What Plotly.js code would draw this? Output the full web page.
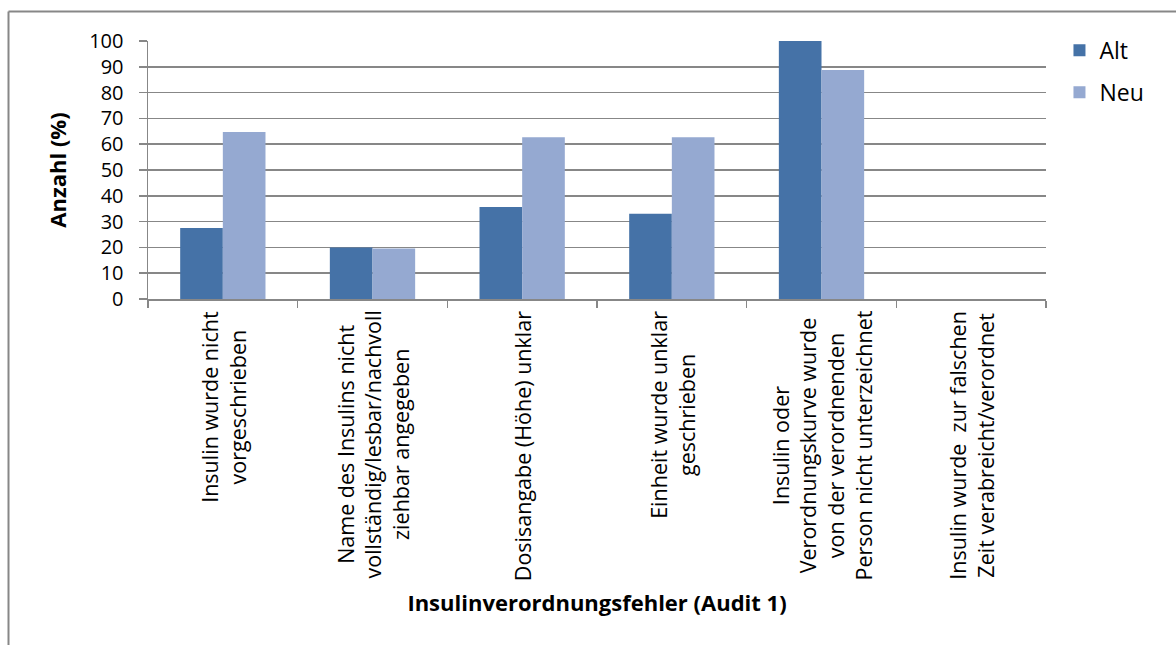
<!DOCTYPE html>
<html>
<head>
<meta charset="utf-8">
<script src="https://cdn.plot.ly/plotly-3.0.1.min.js"></script>
<style>
  html, body { margin: 0; padding: 0; background: #ffffff; }
  #chart { width: 1176px; height: 645px; }
</style>
</head>
<body>
<div id="chart"></div>
<script>
// ---- data ----
const categories = [
  "Insulin wurde nicht<br>vorgeschrieben",
  "Name des Insulins nicht<br>vollständig/lesbar/nachvoll<br>ziehbar angegeben",
  "Dosisangabe (Höhe) unklar",
  "Einheit wurde unklar<br>geschrieben",
  "Insulin oder<br>Verordnungskurve wurde<br>von der verordnenden<br>Person nicht unterzeichnet",
  "Insulin wurde &nbsp;zur falschen<br>Zeit verabreicht/verordnet"
];
const catKeys = ["c1", "c2", "c3", "c4", "c5", "c6"];
const altValues = [27.5, 20.0, 35.7, 33.0, 100, 0];
const neuValues = [64.7, 19.6, 62.7, 62.7, 88.8, 0];
const seriesNames = ["Alt", "Neu"];
const yTickValues = [0, 10, 20, 30, 40, 50, 60, 70, 80, 90, 100];
const xTitle = "Insulinverordnungsfehler (Audit 1)";
const yTitle = "Anzahl (%)";

const FONT = "'Open Sans', sans-serif";

const traces = [
  {
    type: "bar", name: seriesNames[0], x: catKeys, y: altValues,
    marker: { color: "#4572A7", line: { width: 0 } },
    legendgroup: "a", hoverinfo: "y"
  },
  {
    type: "bar", name: seriesNames[1], x: catKeys, y: neuValues,
    marker: { color: "#95A9D1", line: { width: 0 } },
    legendgroup: "b", hoverinfo: "y"
  }
];

const annotations = catKeys.map((k, i) => ({
  x: k, xref: "x", y: 0, yref: "paper",
  yanchor: "top", xanchor: "center",
  yshift: -10,
  text: categories[i], textangle: -90, align: "center",
  showarrow: false,
  font: { family: FONT, size: 21.5, color: "#000" }
}));

const layout = {
  width: 1176, height: 645,
  paper_bgcolor: "#ffffff", plot_bgcolor: "#ffffff",
  margin: { l: 148, r: 130, t: 41, b: 346 },
  barmode: "group", bargap: 0.43, bargroupgap: 0,
  showlegend: true,
  legend: {
    x: 1.015, y: 1.047, xanchor: "left", yanchor: "top",
    font: { family: FONT, size: 23, color: "#000" },
    tracegroupgap: 9, traceorder: "grouped",
    bgcolor: "rgba(0,0,0,0)"
  },
  xaxis: {
    type: "category",
    showticklabels: false,
    ticks: "outside", ticklen: 7, tickcolor: "#878787", tickwidth: 1.5,
    tickson: "boundaries",
    showline: true, linecolor: "#878787", linewidth: 1.5,
    showgrid: false, zeroline: false,
    title: { text: "<b>" + xTitle + "</b>", font: { family: FONT, size: 22, color: "#000" }, standoff: 296 }
  },
  yaxis: {
    range: [0, 100],
    tickvals: yTickValues,
    ticks: "outside", ticklen: 8, tickcolor: "#878787", tickwidth: 1.5,
    ticklabelstandoff: 11,
    tickfont: { family: FONT, size: 20, color: "#000" },
    showline: true, linecolor: "#878787", linewidth: 1.5,
    showgrid: true, gridcolor: "#878787", gridwidth: 1.5,
    zeroline: false,
    title: { text: "<b>" + yTitle + "</b>", font: { family: FONT, size: 22, color: "#000" }, standoff: 16 }
  },
  annotations: annotations,
  shapes: [
    { type: "line", xref: "paper", yref: "paper",
      x0: (8.5 - 148) / 898, x1: (8.5 - 148) / 898, y0: (299.3 - 11.5) / 258.3, y1: (299.3 - 700) / 258.3,
      line: { color: "#878787", width: 2 } },
    { type: "line", xref: "paper", yref: "paper",
      x0: (8.5 - 148) / 898, x1: (1200 - 148) / 898, y0: (299.3 - 11.5) / 258.3, y1: (299.3 - 11.5) / 258.3,
      line: { color: "#878787", width: 2 } }
  ]
};

Plotly.newPlot("chart", traces, layout, { displayModeBar: false, staticPlot: true });
</script>
</body>
</html>
